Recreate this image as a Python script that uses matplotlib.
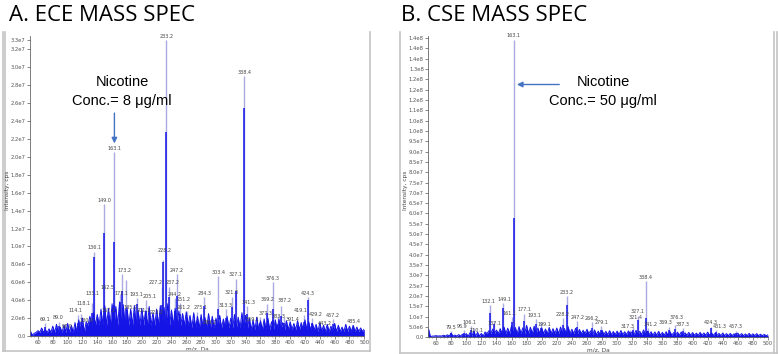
import numpy as np
import matplotlib.pyplot as plt
from matplotlib.lines import Line2D

# ---- data (intensities in cps) ----
# A: ECE, labelled peaks: m/z, light trace height, dark trace height (x1e6)
ece_mz = [69.1, 89.0, 97.0, 114.1, 118.1, 130.1, 133.1, 136.1, 149.0, 157.1, 162.5, 163.1,
          171.1, 173.2, 178.1, 185.2, 193.1, 201.1, 205.1, 223.2, 227.2, 228.2, 233.2, 237.2,
          244.2, 247.2, 251.2, 261.2, 275.1, 284.3, 289.2, 303.4, 313.3, 321.3, 327.1, 338.4,
          341.3, 359.1, 369.2, 376.3, 377.3, 383.3, 387.2, 391.4, 419.1, 424.3, 429.2, 443.2,
          457.2, 485.4]
ece_light = [1.4, 1.6, 1.3, 2.4, 2.5, 1.3, 3.7, 9.4, 14.7, 2.4, 5.0, 20.5,
             4.7, 6.9, 6.2, 2.7, 4.2, 2.4, 4.0, 2.2, 5.5, 8.5, 33.0, 5.5,
             4.2, 6.9, 3.7, 2.8, 2.7, 4.3, 1.7, 6.7, 3.0, 4.4, 6.4, 29.0,
             3.3, 2.1, 3.6, 6.0, 2.5, 2.2, 3.3, 2.1, 2.4, 4.3, 2.0, 1.0,
             1.9, 1.2]
ece_dark = [1.0, 1.1, 0.8, 1.5, 1.6, 0.9, 2.6, 8.8, 11.5, 1.5, 3.5, 10.5,
            3.8, 5.0, 3.0, 1.8, 3.6, 1.8, 2.8, 1.6, 3.5, 8.3, 22.8, 4.4,
            2.8, 4.5, 2.5, 2.0, 1.6, 3.3, 1.2, 3.0, 2.0, 3.2, 5.0, 25.5,
            2.5, 1.4, 2.6, 3.0, 1.8, 1.3, 2.2, 1.4, 1.6, 4.0, 1.4, 0.7,
            1.3, 0.9]
ece_labels = ['69.1', '89.0', '97.0', '114.1', '118.1', '130.0', '133.1', '136.1', '149.0', '157.1',
              '162.5', '163.1', '171.1', '173.2', '', '185.2', '193.1', '201.1', '205.1', '223.2',
              '227.2', '228.2', '233.2', '237.2', '244.2', '247.2', '251.2', '261.2', '275.1', '284.3',
              '289.2', '303.4', '313.3', '321.3', '327.1', '338.4', '341.3', '359.1', '369.2', '376.3',
              '377.3', '383.3', '387.2', '391.4', '419.1', '424.3', '429.2', '443.2', '457.2', '485.4']
# background spikes every 5 Da from 50 to 500 (x1e6)
ece_bg = [0.5, 0.3, 0.6, 0.9, 0.7, 0.8, 1.1, 1.3, 1.0, 1.2,
          1.4, 1.2, 1.5, 1.8, 2.0, 1.6, 2.2, 2.6, 2.4, 3.0,
          3.4, 3.1, 3.6, 3.3, 3.8, 3.5, 3.2, 3.0, 3.4, 2.9,
          3.1, 2.8, 3.3, 2.6, 3.0, 3.4, 3.2, 3.6, 2.9, 3.1,
          2.8, 2.5, 2.7, 2.3, 2.6, 2.2, 2.4, 2.1, 2.5, 2.2,
          2.0, 2.3, 1.9, 2.2, 2.0, 2.4, 2.1, 2.6, 2.3, 2.0,
          1.8, 2.1, 1.7, 1.9, 2.0, 1.6, 1.8, 1.9, 1.5, 1.7,
          1.6, 1.4, 1.7, 1.5, 1.8, 1.6, 1.4, 1.3, 1.5, 1.2,
          1.3, 1.1, 1.4, 1.2, 1.0, 1.3, 1.1, 1.2, 1.0, 0.9, 0.8]
ece_floor = [(48, 60, 0.1), (60, 130, 0.4), (130, 270, 1.2), (270, 350, 0.9), (350, 440, 0.7), (440, 500, 0.5)]

# B: CSE
cse_mz = [79.5, 96.9, 106.1, 110.1, 132.1, 137.1, 149.1, 161.1, 163.1, 177.1, 193.1, 199.1,
          228.2, 233.2, 247.2, 266.2, 279.1, 317.3, 321.4, 327.1, 338.4, 341.2, 369.3, 376.3,
          387.3, 424.3, 431.3, 457.3]
cse_light = [3.0, 3.3, 5.5, 4.5, 15.5, 8.0, 16.5, 9.8, 144.3, 11.5, 8.8, 7.2,
             9.3, 20.0, 7.8, 7.5, 5.5, 3.5, 5.0, 10.5, 27.3, 4.5, 5.2, 6.2,
             4.5, 5.2, 3.5, 3.2]
cse_dark = [2.0, 2.2, 3.5, 3.0, 12.0, 6.5, 14.0, 7.5, 58.0, 8.0, 6.5, 4.5,
            6.0, 15.5, 4.8, 4.5, 3.5, 2.4, 3.5, 8.5, 9.5, 3.0, 3.5, 4.0,
            3.0, 4.5, 2.5, 2.2]
cse_labels = ['79.5', '96.9', '106.1', '110.1', '132.1', '137.1', '149.1', '161.1', '163.1', '177.1',
              '193.1', '199.1', '228.2', '233.2', '247.2', '266.2', '279.1', '317.3', '321.4', '327.1',
              '338.4', '341.2', '369.3', '376.3', '387.3', '424.3', '431.3', '457.3']
cse_bg = [4.0, 0.6, 0.8, 0.7, 1.0, 1.2, 2.0, 1.1, 1.3, 1.5,
          1.8, 2.2, 3.0, 2.4, 1.9, 2.6, 3.2, 4.0, 3.5, 4.2,
          5.0, 4.4, 5.5, 4.8, 5.2, 4.6, 5.8, 4.9, 5.4, 4.5,
          4.6, 4.0, 4.8, 4.2, 4.5, 5.0, 4.3, 5.2, 3.9, 4.4,
          3.8, 3.4, 3.9, 3.2, 3.6, 3.0, 3.4, 2.9, 3.2, 2.8,
          3.0, 3.3, 2.7, 3.1, 2.8, 3.4, 2.9, 3.6, 3.0, 2.7,
          2.6, 2.9, 2.4, 2.7, 2.8, 2.3, 2.5, 2.6, 2.2, 2.4,
          2.3, 2.0, 2.4, 2.1, 2.5, 2.2, 2.0, 1.9, 2.1, 1.8,
          1.9, 1.7, 2.0, 1.8, 1.6, 1.9, 1.7, 1.8, 1.5, 1.4, 1.2]
cse_floor = [(48, 60, 0.3), (60, 130, 0.6), (130, 270, 1.8), (270, 350, 1.3), (350, 440, 1.0), (440, 500, 0.8)]

bg_mz = np.arange(50, 501, 5)
x_ticks = np.arange(60, 501, 20)

W, H = 778, 354
DARK = '#1414e6'
LIGHT = '#ababe3'
ARROW = '#4472c4'

# label nudges (m/z units, label-height steps) for crowded peaks
nudge_a = {'89.0': (-2, 0), '97.0': (3, -1), '114.1': (-4, 0), '118.1': (3, 1), '130.0': (-4, 0),
           '133.1': (0, 1), '157.1': (-2, 0), '162.5': (-9, 0), '171.1': (1, -0.5), '173.2': (3, 0),
           '201.1': (1, 0), '205.1': (6, 0), '223.2': (-3, 0), '227.2': (-9, 0),
           '228.2': (2, 1), '237.2': (5, 0), '251.2': (5, 0), '261.2': (-5, 0), '275.1': (4, 0),
           '289.2': (2, -1), '341.3': (3, 0), '359.1': (-10, -1), '369.2': (0, 0),
           '377.3': (-11, -0.6), '383.3': (1, -0.6), '387.2': (5, 0.3), '391.4': (12, -1),
           '419.1': (-5, 0), '429.2': (5, 0), '443.2': (3, 0)}
nudge_b = {'96.9': (-2, 0), '106.1': (-2, 0), '110.1': (4, -1), '137.1': (0, -1), '132.1': (-2, 0),
           '149.1': (2, 0), '161.1': (-4, 0), '193.1': (-3, 0), '199.1': (5, -1), '317.3': (-3, 0),
           '321.4': (3, 1), '341.2': (3, 0), '369.3': (-5, 0), '376.3': (3, 0.5), '431.3': (5, 0)}


def fx(px):
    return px / W


def fy(py):
    return 1 - py / H


def sci(v, pos=None):
    if v == 0:
        return '0.0'
    m, e = f'{v:.1e}'.split('e')
    return f'{m}e{int(e)}'


def draw_panel(ax, mz, light, dark, labels, bg, floor, ymax, yticks, label_pad, nudge):
    mz = np.array(mz)
    light = np.array(light) * 1e6
    dark = np.array(dark) * 1e6

    def floor_at(x):
        for a, b, lev in floor:
            if a <= x < b:
                return lev
        return floor[-1][2]
    zx, zy = [], []
    for x, h in zip(bg_mz, bg):
        zx += [x - 2.5, x]
        zy += [floor_at(x) * 1e6, h * 1e6]
    zx = np.array(zx)
    zy = np.array(zy)
    ax.vlines(mz, 0, light, color=LIGHT, lw=1.0, zorder=1)
    ax.fill_between(zx, 0, zy, color=DARK, lw=0, zorder=2)
    ax.plot(zx, zy, color=DARK, lw=0.7, zorder=2)
    ax.vlines(mz, 0, dark, color=DARK, lw=1.1, zorder=3)
    step = ymax / 300 * 6
    for x, h, t in zip(mz, light, labels):
        if t:
            dx, dy = nudge.get(t, (0, 0))
            ax.text(x + dx, h + label_pad + dy * step, t, fontsize=3.5, color='#444444',
                    ha='center', va='bottom', zorder=4)
    ax.set_xlim(49.3, 500)
    ax.set_ylim(0, ymax)
    ax.set_xticks(x_ticks)
    ax.set_xticks(np.arange(50, 501, 5), minor=True)
    ax.set_yticks(yticks)
    ax.yaxis.set_major_formatter(plt.FuncFormatter(sci))
    ax.tick_params(labelsize=3.8, colors='#555555', length=2, width=0.5, pad=1)
    ax.tick_params(which='minor', length=1, width=0.4, colors='#555555')
    for s in ['top', 'right']:
        ax.spines[s].set_visible(False)
    for s in ['left', 'bottom']:
        ax.spines[s].set_linewidth(0.6)
        ax.spines[s].set_color('#666666')


fig = plt.figure(figsize=(W / 100, H / 100), dpi=100)
fig.patch.set_facecolor('white')

# panel frames (screenshot borders)
frame = '#c4c4c4'
for xs, ys in [([2.5, 2.5], [32, 351]), ([4.5, 4.5], [32, 351]), ([370, 370], [32, 351]),
               ([2.5, 370], [351, 351]),
               ([400, 400], [32, 353]), ([774, 774], [32, 353]), ([777, 777], [32, 353]),
               ([400, 777], [353, 353])]:
    fig.add_artist(Line2D([fx(x) for x in xs], [fy(y) for y in ys], color=frame, lw=1.2))

# A panel
ax1 = fig.add_axes([fx(30), fy(336), fx(364.3 - 30), (336 - 36) / H])
ece_ticks = list(np.arange(0, 3.21e7, 2e6)) + [3.3e7]
draw_panel(ax1, ece_mz, ece_light, ece_dark, ece_labels, ece_bg, ece_floor, 3.35e7, ece_ticks, 1.5e5, nudge_a)
ax1.set_xlabel('m/z, Da', fontsize=4.2, color='#444444', labelpad=1)
fig.text(fx(8), fy(190), 'Intensity, cps', rotation=90, fontsize=4.2, color='#444444',
         ha='center', va='center')

# B panel
ax2 = fig.add_axes([fx(428), fy(337.3), fx(768 - 428), (337.3 - 36) / H])
cse_ticks = np.arange(0, 1.451e8, 5e6)
draw_panel(ax2, cse_mz, cse_light, cse_dark, cse_labels, cse_bg, cse_floor, 1.46e8, cse_ticks, 6e5, nudge_b)
ax2.set_xlabel('m/z, Da', fontsize=4.2, color='#444444', labelpad=1)
fig.text(fx(405), fy(190), 'Intensity, cps', rotation=90, fontsize=4.2, color='#444444',
         ha='center', va='center')

# titles
fig.text(fx(9), fy(21), 'A. ECE MASS SPEC', fontsize=16, family='Open Sans', ha='left', va='baseline')
fig.text(fx(401), fy(21), 'B. CSE MASS SPEC', fontsize=16, family='Open Sans', ha='left', va='baseline')

# nicotine annotations
fig.text(fx(122), fy(82), 'Nicotine', fontsize=10.5, family='Liberation Sans', ha='center', va='center')
fig.text(fx(122), fy(101), 'Conc.= 8 \u03bcg/ml', fontsize=10.5, family='Liberation Sans', ha='center', va='center')
ax1.annotate('', xy=(163.1, 2.12e7), xytext=(163.1, 2.52e7),
             arrowprops=dict(arrowstyle='-|>', color=ARROW, lw=1.0, mutation_scale=8))

fig.text(fx(603), fy(82), 'Nicotine', fontsize=10.5, family='Liberation Sans', ha='center', va='center')
fig.text(fx(603), fy(101), 'Conc.= 50 \u03bcg/ml', fontsize=10.5, family='Liberation Sans', ha='center', va='center')
ax2.annotate('', xy=(163.5, 1.225e8), xytext=(227, 1.225e8),
             arrowprops=dict(arrowstyle='-|>', color=ARROW, lw=1.0, mutation_scale=8))

plt.savefig('out.png', dpi=100)
